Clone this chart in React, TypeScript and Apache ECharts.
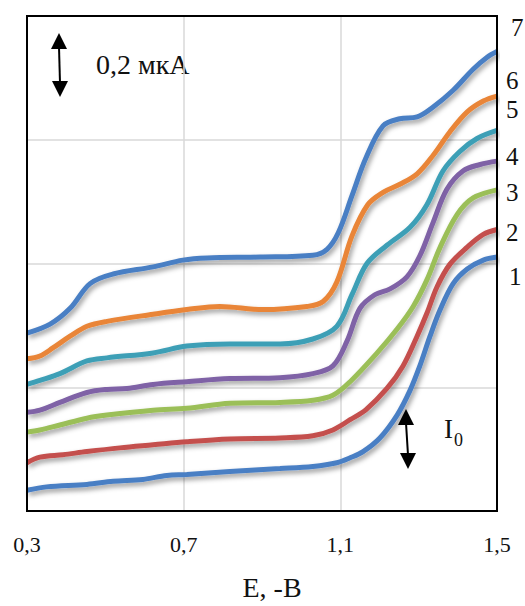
import React, { useEffect, useRef } from "react";
import * as echarts from "echarts";

// Polarographic waves: potential E (-V) vs current (µA), curves 1..7
const curveNames = ["1", "2", "3", "4", "5", "6", "7"];

const curve1: [number, number][] = [
  [0.3, 0.067], [0.35, 0.078], [0.453, 0.086], [0.52, 0.096], [0.596, 0.102],
  [0.657, 0.115], [0.708, 0.118], [0.818, 0.128], [0.946, 0.137], [1.03, 0.144],
  [1.091, 0.156], [1.125, 0.172], [1.158, 0.192], [1.201, 0.236], [1.245, 0.31],
  [1.278, 0.39], [1.303, 0.469], [1.329, 0.565], [1.355, 0.651], [1.388, 0.735],
  [1.424, 0.782], [1.465, 0.811], [1.5, 0.821],
];
const curve2: [number, number][] = [
  [0.3, 0.156], [0.333, 0.174], [0.392, 0.182], [0.453, 0.192], [0.537, 0.204],
  [0.622, 0.214], [0.708, 0.224], [0.818, 0.233], [0.946, 0.236], [1.03, 0.243],
  [1.081, 0.262], [1.125, 0.295], [1.165, 0.327], [1.219, 0.396], [1.26, 0.469],
  [1.296, 0.565], [1.321, 0.639], [1.347, 0.725], [1.38, 0.798], [1.424, 0.853],
  [1.465, 0.894], [1.5, 0.91],
];
const curve3: [number, number][] = [
  [0.3, 0.255], [0.333, 0.262], [0.384, 0.278], [0.453, 0.3], [0.504, 0.31],
  [0.622, 0.326], [0.708, 0.332], [0.818, 0.348], [0.946, 0.351], [1.03, 0.358],
  [1.081, 0.374], [1.125, 0.418], [1.194, 0.511], [1.245, 0.588],
  [1.286, 0.661], [1.321, 0.747], [1.355, 0.853], [1.398, 0.958], [1.439, 1.012],
  [1.5, 1.038],
];
const curve4: [number, number][] = [
  [0.3, 0.319], [0.333, 0.326], [0.384, 0.351], [0.453, 0.383], [0.504, 0.393],
  [0.555, 0.396], [0.622, 0.409], [0.708, 0.418], [0.818, 0.428], [0.946, 0.431],
  [1.03, 0.444], [1.081, 0.469], [1.117, 0.549], [1.15, 0.655], [1.188, 0.699],
  [1.227, 0.718], [1.27, 0.757], [1.303, 0.825], [1.337, 0.933], [1.372, 1.04],
  [1.413, 1.099], [1.457, 1.12], [1.5, 1.131],
];
const curve5: [number, number][] = [
  [0.3, 0.409], [0.333, 0.422], [0.384, 0.444], [0.453, 0.485], [0.504, 0.495],
  [0.622, 0.511], [0.708, 0.533], [0.818, 0.54], [0.946, 0.54], [1.03, 0.556],
  [1.091, 0.597], [1.13, 0.7], [1.168, 0.8], [1.219, 0.859],
  [1.278, 0.917], [1.321, 0.99], [1.362, 1.099], [1.405, 1.162], [1.449, 1.204],
  [1.5, 1.23],
];
const curve6: [number, number][] = [
  [0.3, 0.492], [0.333, 0.501], [0.366, 0.527], [0.41, 0.565], [0.453, 0.597],
  [0.504, 0.613], [0.622, 0.636], [0.708, 0.651], [0.792, 0.661], [0.902, 0.651],
  [1.015, 0.661], [1.056, 0.677], [1.091, 0.74], [1.13, 0.89],
  [1.17, 0.99], [1.209, 1.03], [1.252, 1.056], [1.296, 1.09],
  [1.337, 1.15], [1.38, 1.226], [1.424, 1.29], [1.465, 1.325], [1.5, 1.341],
];
const curve7: [number, number][] = [
  [0.3, 0.575], [0.359, 0.604], [0.41, 0.655], [0.461, 0.735], [0.52, 0.766],
  [0.622, 0.789], [0.698, 0.811], [0.76, 0.818], [0.895, 0.821], [1.03, 0.827],
  [1.066, 0.846], [1.095, 0.9], [1.13, 1.02], [1.165, 1.14],
  [1.209, 1.245], [1.252, 1.268], [1.296, 1.274], [1.337, 1.306], [1.388, 1.36],
  [1.439, 1.428], [1.474, 1.466], [1.5, 1.485],
];

const curves = [curve1, curve2, curve3, curve4, curve5, curve6, curve7];
const colors = ["#4a7fc4", "#c4504d", "#9bbf59", "#7f62a6", "#3e9fb6", "#e98537", "#4a7fc4"];

// Axis settings (E in -V, current in µA)
const xMin = 0.3;
const xMax = 1.5;
const xStep = 0.4;
const yMin = 0;
const yMax = 1.6;
const yStep = 0.4;

// Curve number labels on the right side: [text, x, y]
const curveLabelPos: [string, number, number][] = [
  ["7", 511, 27],
  ["6", 506, 80],
  ["5", 506, 109],
  ["4", 506, 156],
  ["3", 506, 192],
  ["2", 506, 232],
  ["1", 509, 276],
];

const SERIF = "Liberation Serif";

function doubleArrow(x1: number, y1: number, x2: number, y2: number) {
  const head = 16;
  const half = 8;
  return [
    {
      type: "line",
      shape: { x1, y1: y1 + head - 2, x2, y2: y2 - head + 2 },
      style: { stroke: "#000", lineWidth: 2 },
    },
    {
      type: "polygon",
      shape: { points: [[x1, y1], [x1 - half, y1 + head], [x1 + half, y1 + head]] },
      style: { fill: "#000" },
    },
    {
      type: "polygon",
      shape: { points: [[x2, y2], [x2 - half, y2 - head], [x2 + half, y2 - head]] },
      style: { fill: "#000" },
    },
  ];
}

function label(text: string, x: number, y: number, size: number) {
  return {
    type: "text",
    x,
    y,
    style: {
      text,
      fontFamily: SERIF,
      fontSize: size,
      fill: "#111",
      verticalAlign: "middle",
    },
  };
}

export default function App() {
  const ref = useRef<HTMLDivElement>(null);

  useEffect(() => {
    if (!ref.current) return;
    const chart = echarts.init(ref.current, undefined, { renderer: "svg" });

    const series = curves.map((data, i) => ({
      name: curveNames[i],
      type: "line",
      data,
      smooth: 0.35,
      showSymbol: false,
      symbol: "none",
      z: 3 + i,
      lineStyle: {
        color: colors[i],
        width: 5,
        shadowColor: "rgba(0,0,0,0.4)",
        shadowBlur: 5,
        shadowOffsetX: 2,
        shadowOffsetY: 3,
      },
    }));

    const graphics: any[] = [
      ...doubleArrow(59, 33, 60, 97),
      label("0,2 мкА", 96, 64, 28),
      ...doubleArrow(406, 409, 408, 469),
      label("I", 444, 429, 27),
      label("0", 454, 440, 18),
      ...curveLabelPos.map(([t, x, y]) => label(t, x, y, 25)),
    ];

    chart.setOption({
      animation: false,
      backgroundColor: "#fff",
      grid: {
        left: 27,
        right: 28,
        top: 16,
        bottom: 89,
        show: true,
        borderColor: "#000",
        borderWidth: 2,
        z: 10,
      },
      xAxis: {
        type: "value",
        min: xMin,
        max: xMax,
        interval: xStep,
        name: "E, -B",
        nameLocation: "middle",
        nameGap: 62,
        nameTextStyle: { fontFamily: SERIF, fontSize: 28, color: "#111", padding: [0, 0, 0, 20] },
        axisLine: { show: false },
        axisTick: { show: false },
        axisLabel: {
          fontFamily: SERIF,
          fontSize: 22,
          color: "#111",
          margin: 22,
          formatter: (v: number) => v.toFixed(1).replace(".", ","),
        },
        splitLine: { show: true, lineStyle: { color: "#d9d9d9", width: 1.5 } },
      },
      yAxis: {
        type: "value",
        min: yMin,
        max: yMax,
        interval: yStep,
        axisLine: { show: false },
        axisTick: { show: false },
        axisLabel: { show: false },
        splitLine: { show: true, lineStyle: { color: "#d9d9d9", width: 1.5 } },
      },
      series,
      graphic: graphics,
    });

    return () => chart.dispose();
  }, []);

  return (
    <div
      ref={ref}
      style={{ position: "fixed", left: 0, top: 0, width: 525, height: 606, background: "#fff" }}
    />
  );
}
